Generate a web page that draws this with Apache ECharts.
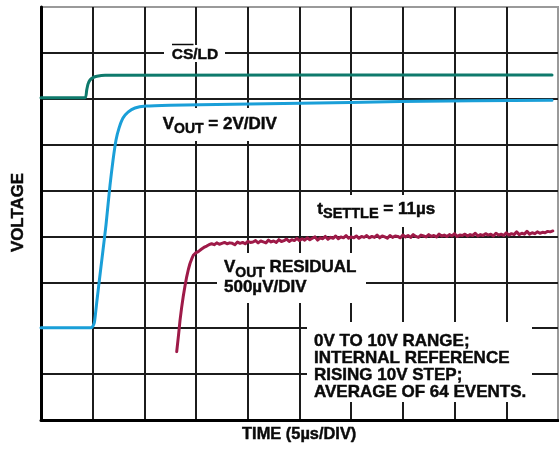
<!DOCTYPE html>
<html>
<head>
<meta charset="utf-8">
<script src="https://cdn.jsdelivr.net/npm/echarts@6/dist/echarts.min.js"></script>
<style>
  html, body { margin: 0; padding: 0; background: #fff; }
  #chart { width: 559px; height: 450px; }
</style>
</head>
<body>
<div id="chart"></div>
<script>
// Horizontal unit: one division (5 µs). Vertical unit: one screen division.

// CS/LD load strobe
const csldTime  = [0, 0.851, 0.884, 0.909, 0.948, 1.006, 1.083, 1.238, 9.884];
const csldLevel = [7.02, 7.02, 7.19, 7.32, 7.41, 7.46, 7.49, 7.51, 7.52];

// VOUT, 2 V/DIV
const voutTime  = [0, 0.967, 1.006, 1.035, 1.083, 1.141, 1.199, 1.257, 1.335, 1.393, 1.451,
                   1.509, 1.586, 1.683, 1.818, 2.031, 2.495, 3.075, 5.01, 6.944, 9.884];
const voutLevel = [2.01, 2.01, 2.05, 2.14, 2.61, 3.16, 3.70, 4.25, 5.12, 5.66, 6.10,
                   6.36, 6.58, 6.71, 6.80, 6.84, 6.86, 6.87, 6.90, 6.94, 6.97];

// VOUT residual, 500 µV/DIV
const residualTime = [
  2.625, 2.66, 2.689, 2.72, 2.751, 2.785, 2.818, 2.85, 2.882, 2.915, 2.946, 2.99, 3.043, 3.10, 3.15, 3.205, 3.25,
  3.30, 3.35, 3.40, 3.45, 3.50, 3.55, 3.60, 3.65, 3.70, 3.75, 3.80, 3.85, 3.90, 3.95,
  4.00, 4.05, 4.10, 4.15, 4.20, 4.25, 4.30, 4.35, 4.40, 4.45, 4.50, 4.55, 4.60, 4.65, 4.70, 4.75, 4.80, 4.85, 4.90, 4.95,
  5.00, 5.05, 5.10, 5.15, 5.20, 5.25, 5.30, 5.35, 5.40, 5.45, 5.50, 5.55, 5.60, 5.65, 5.70, 5.75, 5.80, 5.85, 5.90, 5.95,
  6.00, 6.05, 6.10, 6.15, 6.20, 6.25, 6.30, 6.35, 6.40, 6.45, 6.50, 6.55, 6.60, 6.65, 6.70, 6.75, 6.80, 6.85, 6.90, 6.95,
  7.00, 7.05, 7.10, 7.15, 7.20, 7.25, 7.30, 7.35, 7.40, 7.45, 7.50, 7.55, 7.60, 7.65, 7.70, 7.75, 7.80, 7.85, 7.90, 7.95,
  8.00, 8.05, 8.10, 8.15, 8.20, 8.25, 8.30, 8.35, 8.40, 8.45, 8.50, 8.55, 8.60, 8.65, 8.70, 8.75, 8.80, 8.85, 8.90, 8.95,
  9.00, 9.05, 9.10, 9.15, 9.20, 9.25, 9.30, 9.35, 9.40, 9.45, 9.50, 9.55, 9.60, 9.65, 9.70, 9.75, 9.80, 9.85, 9.90
];
const residualLevel = [
  1.49, 1.85, 2.17, 2.45, 2.69, 2.92, 3.12, 3.28, 3.41, 3.51, 3.59, 3.64, 3.67, 3.72, 3.76, 3.79, 3.82,
  3.84, 3.82, 3.86, 3.83, 3.85, 3.87, 3.84, 3.86, 3.85, 3.82, 3.88, 3.85, 3.87, 3.84,
  3.89, 3.87, 3.88, 3.91, 3.86, 3.90, 3.88, 3.86, 3.92, 3.88, 3.90, 3.87, 3.93, 3.89, 3.91, 3.94, 3.89, 3.93, 3.91, 3.96,
  3.91, 3.95, 3.92, 3.97, 3.93, 3.96, 3.99, 3.92, 3.97, 3.95, 4.00, 3.94, 3.98, 3.96, 4.01, 3.95, 3.99, 3.97, 4.02, 3.96,
  3.99, 3.97, 4.01, 3.96, 4.00, 3.98, 4.02, 3.97, 4.00, 3.98, 4.03, 3.97, 4.01, 3.99, 3.96, 4.02, 3.98, 4.01, 4.00, 3.97,
  4.03, 3.99, 4.02, 3.98, 4.04, 4.00, 3.98, 4.03, 4.01, 3.99, 4.04, 4.00, 4.02, 3.99, 4.05, 4.01, 4.03, 4.00, 4.04, 4.01,
  4.06, 4.00, 4.03, 4.02, 4.05, 4.01, 4.04, 4.02, 4.07, 4.01, 4.04, 4.02, 4.06, 4.03, 4.05, 4.01, 4.07, 4.03, 4.05, 4.02,
  4.08, 4.03, 4.06, 4.04, 4.10, 4.04, 4.07, 4.05, 4.11, 4.05, 4.08, 4.06, 4.10, 4.07, 4.09, 4.08, 4.11, 4.10, 4.12
];

const zip = (xs, ys) => xs.map((x, i) => [x, ys[i]]);

const FONT = '"Liberation Sans", Arial, Helvetica, sans-serif';
const INK = '#0a0a0a';
const measureCtx = document.createElement('canvas').getContext('2d');
function textWidth(text, size) {
  measureCtx.font = 'bold ' + size + 'px ' + FONT;
  return measureCtx.measureText(text).width;
}
function textStyle(text, size, align) {
  return { text: text, font: 'bold ' + size + 'px ' + FONT, fill: INK,
           stroke: INK, lineWidth: 0.45,
           textAlign: align || 'left', textVerticalAlign: 'middle' };
}

const elements = [];

// white backing panel behind an annotation
function panel(x, y, w, h) {
  elements.push({ type: 'rect', z: 10, silent: true,
    shape: { x: x, y: y, width: w, height: h },
    style: { fill: '#ffffff' } });
}

// a run of text pieces sharing a baseline; dy shifts subscripts down
function textRun(x, baseline, parts) {
  let cx = x;
  parts.forEach(function (p) {
    const dy = p.dy || 0;
    elements.push({ type: 'text', z: 11, silent: true,
      x: cx, y: baseline + dy - 0.35 * p.size,
      style: textStyle(p.text, p.size) });
    cx += textWidth(p.text, p.size);
  });
  return cx;
}

// CS/LD label with overbar on CS
panel(164, 45, 61, 17);
textRun(171.7, 60, [{ text: 'CS/LD', size: 15.5 }]);
elements.push({ type: 'line', z: 11, silent: true,
  shape: { x1: 172, y1: 44.5, x2: 172 + textWidth('CS', 15.5), y2: 44.5 },
  style: { stroke: INK, lineWidth: 1.5 } });

// VOUT = 2V/DIV
panel(155, 108, 130, 33);
textRun(162.7, 130, [
  { text: 'V', size: 17 },
  { text: 'OUT', size: 14, dy: 4.5 },
  { text: ' = 2V/DIV', size: 17 }
]);

// tSETTLE = 11µs
panel(308, 195, 137, 32);
textRun(317.3, 215, [
  { text: 't', size: 17 },
  { text: 'SETTLE', size: 14.5, dy: 4.5 },
  { text: ' = 11µs', size: 17 }
]);

// VOUT RESIDUAL / 500µV/DIV
panel(217, 253, 149, 50);
textRun(224, 273.3, [
  { text: 'V', size: 17 },
  { text: 'OUT', size: 14, dy: 4.5 },
  { text: ' RESIDUAL', size: 17 }
]);
textRun(224, 293.3, [{ text: '500µV/DIV', size: 17 }]);

// test conditions
panel(307, 322, 225, 80);
const noteLines = ['0V TO 10V RANGE;', 'INTERNAL REFERENCE', 'RISING 10V STEP;', 'AVERAGE OF 64 EVENTS.'];
noteLines.forEach(function (line, i) {
  textRun(314, 347 + i * 17.2, [{ text: line, size: 17 }]);
});

// axis titles
elements.push({ type: 'text', z: 11, silent: true, x: 18.3, y: 212.5, rotation: Math.PI / 2,
  style: textStyle('VOLTAGE', 16.9, 'center') });
elements.push({ type: 'text', z: 11, silent: true, x: 299.2, y: 434,
  style: textStyle('TIME (5µs/DIV)', 16.4, 'center') });

const gridLine = { color: '#1c1c1c', width: 2 };
const hidden = { show: false };

const chart = echarts.init(document.getElementById('chart'), null, { renderer: 'canvas' });
chart.setOption({
  animation: false,
  backgroundColor: '#ffffff',
  grid: { left: 41, right: 1, top: 7, bottom: 30, containLabel: false,
          show: true, borderColor: '#9a9a9a', borderWidth: 2, backgroundColor: 'transparent' },
  xAxis: {
    type: 'value', min: 0, max: 10, interval: 1,
    axisLine: { show: true, onZero: false, lineStyle: { color: '#000', width: 3 } },
    axisTick: hidden, axisLabel: hidden,
    splitLine: { show: true, showMinLine: false, showMaxLine: false, lineStyle: gridLine }
  },
  yAxis: {
    type: 'value', min: 0, max: 9, interval: 1,
    axisLine: { show: true, onZero: false, lineStyle: { color: '#000', width: 3 } },
    axisTick: hidden, axisLabel: hidden,
    splitLine: { show: true, showMinLine: false, showMaxLine: false, lineStyle: gridLine }
  },
  graphic: { elements: elements },
  series: [
    { type: 'line', z: 20, data: zip(csldTime, csldLevel), showSymbol: false, smooth: 0.2,
      lineStyle: { color: '#0e7a6c', width: 3, cap: 'round', join: 'round' } },
    { type: 'line', z: 20, data: zip(voutTime, voutLevel), showSymbol: false, smooth: 0.2,
      lineStyle: { color: '#1a9fd8', width: 3, cap: 'round', join: 'round' } },
    { type: 'line', z: 20, data: zip(residualTime, residualLevel), showSymbol: false,
      lineStyle: { color: '#9e1a48', width: 3, cap: 'round', join: 'round' } }
  ]
});
</script>
</body>
</html>
